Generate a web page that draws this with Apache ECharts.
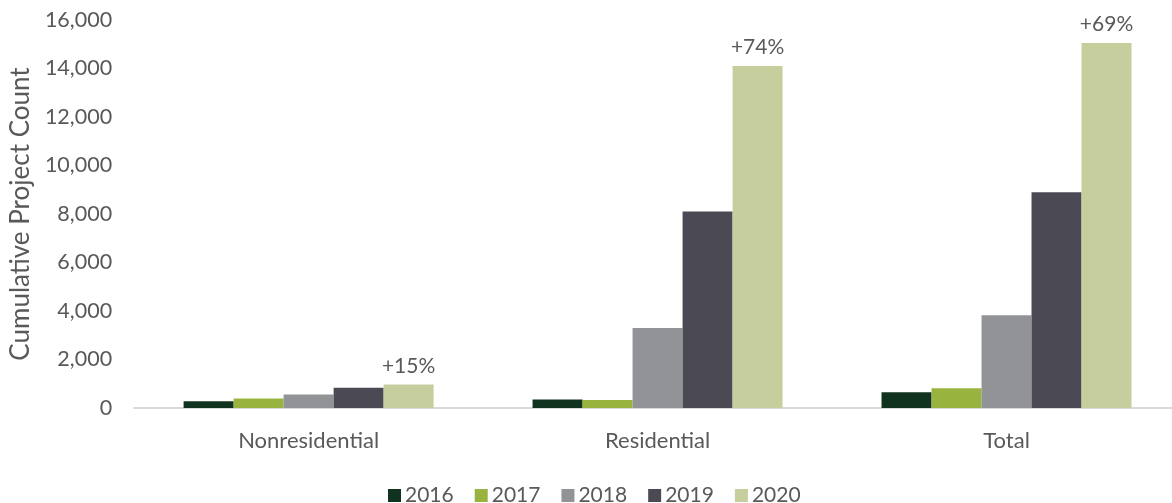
<!DOCTYPE html>
<html>
<head>
<meta charset="utf-8">
<script src="https://cdn.jsdelivr.net/npm/echarts@6/dist/echarts.min.js"></script>
<style>
  html, body { margin: 0; padding: 0; background: #ffffff; overflow: hidden; }
  /* the drawing surface runs a few pixels past the right edge of the page */
  #chart { width: 1181px; height: 503px; }
</style>
</head>
<body>
<div id="chart"></div>
<script>
// Cumulative project counts by building type, one series per year
const categories = ['Nonresidential', 'Residential', 'Total'];
const years = ['2016', '2017', '2018', '2019', '2020'];
const values2016 = [280, 350, 650];
const values2017 = [390, 330, 810];
const values2018 = [560, 3300, 3820];
const values2019 = [840, 8100, 8900];
const values2020 = [965, 14100, 15050];
const yTicks = [0, 2000, 4000, 6000, 8000, 10000, 12000, 14000, 16000];

const yearValues = [values2016, values2017, values2018, values2019, values2020];
const colors = ['#10321f', '#99b43e', '#929396', '#4b4a54', '#c6ce9e'];

const textColor = '#595959';
const fontFamily = 'Lato, "Open Sans", sans-serif';

// growth from 2019 to 2020, shown above the 2020 bars
function growthLabel(idx) {
  const pct = Math.round((values2020[idx] / values2019[idx] - 1) * 100);
  return (pct >= 0 ? '+' : '') + pct + '%';
}

const series = years.map((year, i) => ({
  name: year,
  type: 'bar',
  data: yearValues[i],
  barWidth: 50,
  barGap: '0%',
  itemStyle: { color: colors[i] },
  label: i === years.length - 1 ? {
    show: true,
    position: 'top',
    distance: 8,
    color: textColor,
    fontFamily: fontFamily,
    fontSize: 21,
    formatter: p => growthLabel(p.dataIndex)
  } : { show: false }
}));

const chart = echarts.init(document.getElementById('chart'), null, { renderer: 'canvas' });
chart.setOption({
  animation: false,
  backgroundColor: '#ffffff',
  textStyle: { fontFamily: fontFamily },
  grid: { left: 134, right: 0, top: 20, height: 388, containLabel: false },
  legend: {
    data: years,
    top: 480,
    left: 383,
    itemWidth: 13,
    itemHeight: 13,
    itemGap: 21,
    icon: 'rect',
    textStyle: { color: textColor, fontSize: 21, fontFamily: fontFamily, padding: [0, 0, 0, -1] }
  },
  xAxis: {
    type: 'category',
    data: categories,
    axisLine: { lineStyle: { color: '#d9d9d9', width: 2 } },
    axisTick: { show: false },
    axisLabel: { color: textColor, fontSize: 22, fontFamily: fontFamily, margin: 22 }
  },
  yAxis: {
    type: 'value',
    min: yTicks[0],
    max: yTicks[yTicks.length - 1],
    interval: yTicks[1] - yTicks[0],
    name: 'Cumulative Project Count',
    nameLocation: 'middle',
    nameGap: 100,
    nameTextStyle: { color: textColor, fontSize: 26, fontFamily: fontFamily },
    axisLine: { show: false },
    axisTick: { show: false },
    splitLine: { show: false },
    axisLabel: {
      color: textColor,
      fontSize: 21.5,
      fontFamily: fontFamily,
      margin: 22,
      formatter: v => v.toLocaleString('en-US')
    }
  },
  series: series
});
</script>
</body>
</html>
